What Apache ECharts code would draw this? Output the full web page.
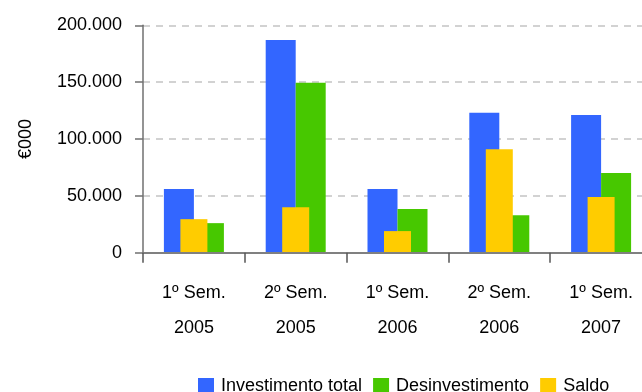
<!DOCTYPE html>
<html>
<head>
<meta charset="utf-8">
<script src="https://cdn.jsdelivr.net/npm/echarts@6/dist/echarts.min.js"></script>
<style>
  html, body { margin: 0; padding: 0; background: #fff; }
  #chart { width: 642px; height: 392px; }
</style>
</head>
<body>
<div id="chart"></div>
<script>
// Semestres e valores em milhares de euros
const categories = ['1º Sem.\n2005', '2º Sem.\n2005', '1º Sem.\n2006', '2º Sem.\n2006', '1º Sem.\n2007'];
const investimentoTotal = [56000, 187000, 56000, 123000, 121000];
const desinvestimento = [26000, 149500, 38500, 33000, 70000];
const saldo = [29500, 40000, 19000, 91000, 49000];
const yTicks = { min: 0, max: 200000, interval: 50000 };

const FONT = '"Liberation Sans", Arial, sans-serif';
const FS = 18;

function fmtThousands(v) {
  return String(v).replace(/\B(?=(\d{3})+(?!\d))/g, '.');
}

const chart = echarts.init(document.getElementById('chart'), null, { renderer: 'canvas' });

chart.setOption({
  animation: false,
  backgroundColor: '#ffffff',
  grid: {
    left: 143, right: -10, top: 25.3, bottom: 139.3,
    containLabel: false, outerBoundsMode: 'none'
  },
  legend: {
    left: 198,
    top: 374.5,
    padding: 0,
    itemWidth: 16,
    itemHeight: 16,
    itemGap: 11,
    icon: 'rect',
    textStyle: {
      fontFamily: FONT, fontSize: FS, lineHeight: 16, color: '#000',
      padding: [0, 0, 7, 2]
    },
    data: ['Investimento total', 'Desinvestimento', 'Saldo']
  },
  xAxis: [
    {
      type: 'category',
      data: categories,
      z: 3,
      axisLine: { lineStyle: { color: '#808080', width: 2 } },
      axisTick: { show: true, length: 10, lineStyle: { color: '#555', width: 1.5 } },
      axisLabel: {
        interval: 0,
        margin: 23,
        fontFamily: FONT, fontSize: FS, lineHeight: 35, color: '#000'
      }
    },
    {
      type: 'category',
      data: categories,
      show: false
    }
  ],
  yAxis: {
    type: 'value',
    min: yTicks.min,
    max: yTicks.max,
    interval: yTicks.interval,
    name: '€000',
    nameLocation: 'middle',
    nameRotate: 90,
    nameGap: 108,
    nameTextStyle: { fontFamily: FONT, fontSize: FS, color: '#000' },
    axisLine: { show: true, lineStyle: { color: '#707070', width: 1.5 } },
    axisTick: { show: true, length: 8, lineStyle: { color: '#707070', width: 1.5 } },
    axisLabel: {
      margin: 21,
      fontFamily: FONT, fontSize: FS, color: '#000',
      formatter: fmtThousands
    },
    splitLine: { lineStyle: { color: '#c4c4c4', width: 1.5, type: [7, 6] } }
  },
  series: [
    {
      name: 'Investimento total',
      type: 'bar',
      xAxisIndex: 0,
      barWidth: 30,
      barGap: 0,
      itemStyle: { color: '#3366ff' },
      data: investimentoTotal
    },
    {
      name: 'Desinvestimento',
      type: 'bar',
      xAxisIndex: 0,
      barWidth: 30,
      barGap: 0,
      itemStyle: { color: '#47c800' },
      data: desinvestimento
    },
    {
      name: 'Saldo',
      type: 'bar',
      xAxisIndex: 1,
      barWidth: 27,
      itemStyle: { color: '#ffcc00' },
      data: saldo
    }
  ]
});
</script>
</body>
</html>
